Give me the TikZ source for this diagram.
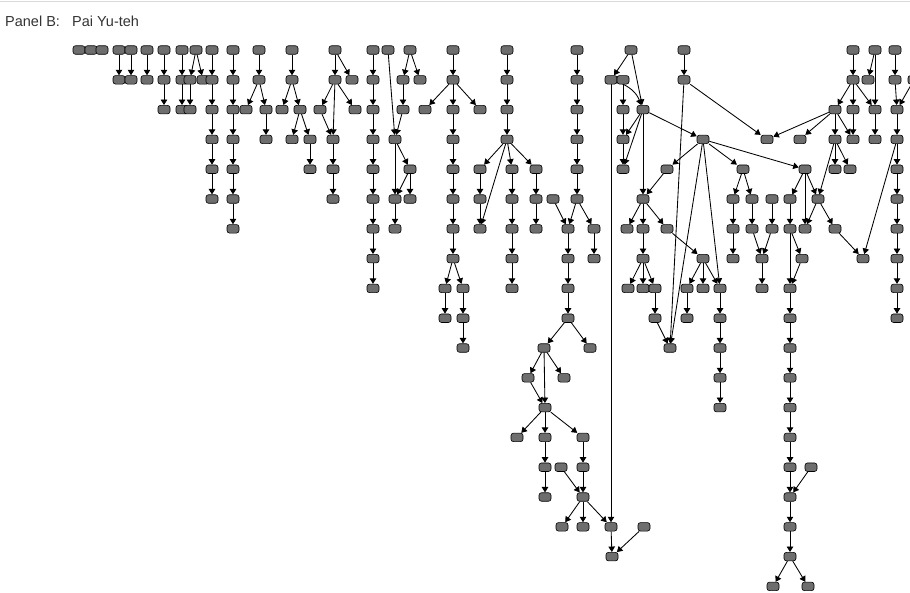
\documentclass[tikz,border=0pt]{standalone}
\usepackage{fontspec}
\setmainfont{Liberation Sans}
\usetikzlibrary{arrows.meta,backgrounds}

\begin{document}
\begin{tikzpicture}[x=1pt,y=-1pt,
  actor/.style={rectangle,rounded corners=2.5pt,draw=black,fill=black!57,line width=0.6pt,minimum width=12pt,minimum height=8.5pt,inner sep=0pt},
  tie/.style={draw=black,line width=0.85pt,-{Triangle[length=5.5pt,width=6.5pt]}}
]
\useasboundingbox (0,0) rectangle (910,592);
\draw[black!15,line width=1pt] (0,1.5) -- (910,1.5);
\node[anchor=west,text=black!80,font=\fontsize{14.5}{16}\selectfont,inner sep=0pt] (title) at (5,21) {Panel B:\ \ \ Pai Yu-teh};

% actors: x / row
\foreach \x/\r in {79/0,91/0,102/0,119/0,131/0,147/0,164/0,182/0,196/0,212/0,233/0,259/0,292/0,335/0,373/0,388/0,410/0,453/0,507/0,577/0,631/0,684/0,853/0,875/0,895/0,
  119/1,131/1,147/1,164/1,182/1,190/1,203/1,212/1,233/1,259/1,292/1,335/1,352/1,373/1,403/1,420/1,453/1,507/1,577/1,611/1,623/1,684/1,853/1,868/1,895/1,914/1,
  164/2,182/2,190/2,212/2,233/2,246/2,266/2,282/2,300/2,320/2,355/2,373/2,403/2,425/2,453/2,480/2,507/2,577/2,623/2,643/2,835/2,853/2,875/2,897/2,
  212/3,233/3,266/3,292/3,310/3,333/3,373/3,395/3,453/3,507/3,577/3,623/3,703/3,767/3,800/3,835/3,853/3,875/3,897/3,
  212/4,233/4,310/4,333/4,373/4,410/4,453/4,480/4,512/4,536/4,577/4,623/4,667/4,743/4,805/4,835/4,850/4,897/4,
  212/5,233/5,333/5,373/5,395/5,410/5,453/5,480/5,512/5,536/5,553/5,577/5,643/5,733/5,752/5,772/5,790/5,818/5,897/5,
  233/6,373/6,395/6,453/6,480/6,512/6,536/6,568/6,594/6,627/6,643/6,667/6,733/6,752/6,772/6,790/6,805/6,835/6,897/6,
  373/7,453/7,512/7,568/7,594/7,643/7,703/7,733/7,762/7,802/7,863/7,897/7,
  373/8,445/8,463/8,512/8,568/8,628/8,643/8,655/8,687/8,703/8,720/8,762/8,790/8,897/8,
  445/9,463/9,568/9,655/9,687/9,720/9,790/9,897/9,
  463/10,544/10,590/10,670/10,720/10,790/10,
  528/11,564/11,720/11,790/11,
  545/12,720/12,790/12,
  517/13,545/13,583/13,790/13,
  545/14,561/14,583/14,790/14,811/14,
  545/15,583/15,790/15,
  562/16,583/16,611/16,644/16,790/16,
  612/17,790/17,
  773/18,808/18}
  \node[actor] (v\x r\r) at (\x,{50+29.8*\r}) {};

\begin{scope}[on background layer]
\foreach \a/\b in {119r0/119r1,131r0/131r1,147r0/147r1,164r0/164r1,164r1/164r2,182r0/182r1,182r1/182r2,
  196r0/190r1,196r0/203r1,190r1/190r2,
  212r0/212r1,212r1/212r2,212r2/212r3,212r3/212r4,212r4/212r5,
  233r0/233r1,233r1/233r2,233r2/233r3,233r3/233r4,233r4/233r5,233r5/233r6,
  259r0/259r1,259r1/246r2,259r1/266r2,266r2/266r3,
  292r0/292r1,292r1/282r2,292r1/300r2,300r2/292r3,300r2/310r3,310r3/310r4,
  335r0/335r1,335r0/352r1,335r1/320r2,335r1/355r2,335r1/333r3,320r2/333r3,333r3/333r4,333r4/333r5,
  373r0/373r1,373r1/373r2,373r2/373r3,373r3/373r4,373r4/373r5,373r5/373r6,373r6/373r7,373r7/373r8,
  388r0/395r3,410r0/403r1,410r0/420r1,403r1/403r2,403r2/395r3,395r3/410r4,395r3/395r5,410r4/395r5,410r4/410r5,395r5/395r6,
  453r0/453r1,453r1/425r2,453r1/453r2,453r1/480r2,453r2/453r3,453r3/453r4,453r4/453r5,453r5/453r6,453r6/453r7,
  453r7/445r8,453r7/463r8,445r8/445r9,463r8/463r9,463r9/463r10,
  507r0/507r1,507r1/507r2,507r2/507r3,507r3/480r4,507r3/512r4,507r3/536r4,507r3/480r6,480r4/480r5,480r5/480r6,
  512r4/512r5,512r5/512r6,512r6/512r7,512r7/512r8,536r4/536r5,536r5/536r6,
  577r0/577r1,577r1/577r2,577r2/577r3,577r3/577r4,577r4/577r5,577r5/568r6,577r5/594r6,553r5/568r6,594r6/594r7,
  568r6/568r7,568r7/568r8,568r8/568r9,568r9/544r10,568r9/590r10,
  544r10/528r11,544r10/564r11,544r10/545r12,528r11/545r12,
  545r12/517r13,545r12/545r13,545r12/583r13,545r13/545r14,545r14/545r15,583r13/583r14,583r14/583r15,561r14/583r15,
  583r15/562r16,583r15/583r16,583r15/611r16,611r1/611r16,611r16/612r17,644r16/612r17,
  631r0/611r1,631r0/643r2,623r1/623r2,623r2/623r3,623r3/623r4,643r2/623r3,643r2/623r4,643r2/643r5,643r2/703r3,
  684r0/684r1,684r1/767r3,684r1/670r10,
  703r3/667r4,703r3/743r4,703r3/670r10,703r3/720r8,703r3/805r4,667r4/643r5,
  643r5/627r6,643r5/643r6,643r5/667r6,643r6/643r7,643r7/628r8,643r7/643r8,643r7/655r8,655r8/655r9,655r9/670r10,
  667r6/703r7,703r7/687r8,703r7/703r8,703r7/720r8,687r8/687r9,
  720r8/720r9,720r9/720r10,720r10/720r11,720r11/720r12,
  743r4/733r5,743r4/752r5,733r5/733r6,733r6/733r7,752r5/752r6,752r6/762r7,772r5/772r6,772r6/762r7,762r7/762r8,
  853r0/853r1,853r1/835r2,853r1/853r2,853r1/875r2,875r0/868r1,875r0/875r2,875r2/875r3,853r2/853r3,
  835r2/767r3,835r2/800r3,835r2/835r3,835r2/853r3,835r3/835r4,835r3/850r4,835r3/818r5,
  895r0/895r1,895r1/897r2,914r1/897r2,
  897r2/897r3,897r3/897r4,897r4/897r5,897r5/897r6,897r6/897r7,897r7/897r8,897r8/897r9,897r3/863r7,
  805r4/790r5,805r4/805r6,805r4/818r5,818r5/805r6,818r5/835r6,835r6/863r7,
  790r5/790r6,790r6/802r7,802r7/790r8,790r6/790r8,
  790r8/790r9,790r9/790r10,790r10/790r11,790r11/790r12,790r12/790r13,790r13/790r14,790r14/790r15,
  790r15/790r16,790r16/790r17,811r14/790r15,790r17/773r18,790r17/808r18}
  \draw[tie] (v\a) -- (v\b);
\draw[tie] (v611r1) to[bend left=25] (v643r2);
\end{scope}

\end{tikzpicture}
\end{document}
